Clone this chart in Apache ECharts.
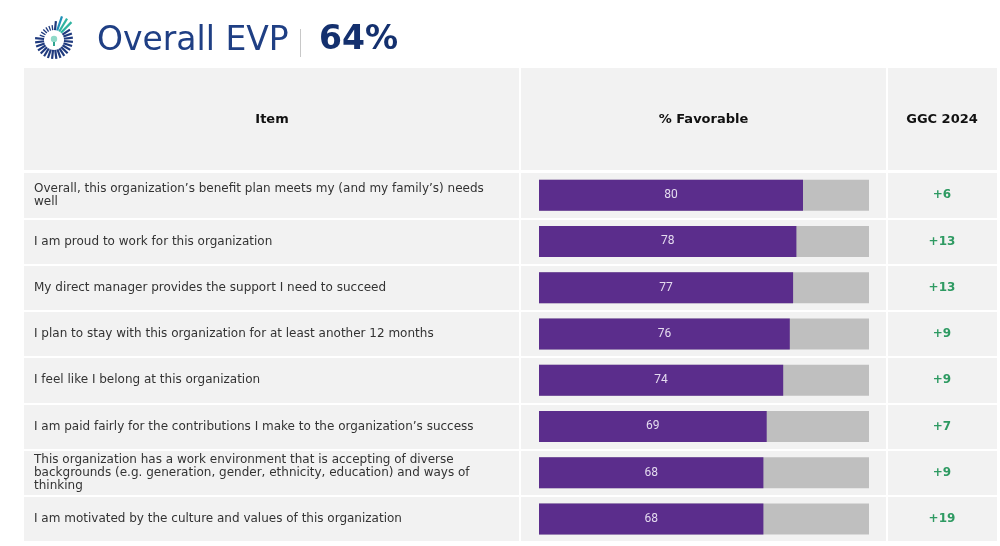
<!DOCTYPE html>
<html>
<head>
<meta charset="utf-8">
<script src="https://cdn.jsdelivr.net/npm/echarts@6/dist/echarts.min.js"></script>
<style>
  html, body { margin: 0; padding: 0; background: #fff; }
  #chart { width: 1000px; height: 546px; }
</style>
</head>
<body>
<div id="chart"></div>
<script>
var items = [
  'Overall, this organization\u2019s benefit plan meets my (and my family\u2019s) needs well',
  'I am proud to work for this organization',
  'My direct manager provides the support I need to succeed',
  'I plan to stay with this organization for at least another 12 months',
  'I feel like I belong at this organization',
  'I am paid fairly for the contributions I make to the organization\u2019s success',
  'This organization has a work environment that is accepting of diverse backgrounds (e.g. generation, gender, ethnicity, education) and ways of thinking',
  'I am motivated by the culture and values of this organization'
];
var favorable = [80, 78, 77, 76, 74, 69, 68, 68];
var ggc = ['+6', '+13', '+13', '+9', '+9', '+7', '+9', '+19'];

var font = 'DejaVu Sans, Verdana, sans-serif';
var headTop = 68, rowsTop = 172, tableLeft = 24, tableRight = 997, tableBottom = 542;
var col1 = 520, col2 = 887;

// logo: sunburst of short strokes
var logo = [];
var cx = 54, cy = 40;
for (var i = 0; i < 28; i++) {
  var a = -Math.PI / 2 + (i / 28) * Math.PI * 2 + 0.1;
  var deg = (a * 180 / Math.PI + 360) % 360;
  var r0 = 10, r1 = 19;
  var color = '#1f3a7e';
  var w = 2.2;
  if (deg > 278 && deg < 325) { r1 = 25; color = deg > 300 ? '#2fb3a0' : '#1f8fb8'; }
  if (deg > 195 && deg < 275) { r1 = 15; w = 1.3; }
  logo.push({
    type: 'line',
    shape: { x1: cx + r0 * Math.cos(a), y1: cy + r0 * Math.sin(a), x2: cx + r1 * Math.cos(a), y2: cy + r1 * Math.sin(a) },
    style: { stroke: color, lineWidth: w }
  });
}
logo.push({ type: 'circle', shape: { cx: cx, cy: cy - 1, r: 3.2 }, style: { fill: '#8fd9c8' } });
logo.push({ type: 'rect', shape: { x: cx - 1, y: cy + 2, width: 2, height: 4 }, style: { fill: '#2fa38f' } });

var chart = echarts.init(document.getElementById('chart'));
chart.setOption({
  backgroundColor: '#ffffff',
  animation: false,
  graphic: logo.concat([
    { type: 'text', left: 97, top: 25, style: { text: 'Overall EVP', font: '33px ' + font, fill: '#1f3f84' } },
    { type: 'rect', shape: { x: 300, y: 29, width: 1, height: 28 }, style: { fill: '#c8c8c8' } },
    { type: 'text', left: 319, top: 24, style: { text: '64%', font: 'bold 33px ' + font, fill: '#14306e' } },
    // header row
    { type: 'rect', shape: { x: tableLeft, y: headTop, width: tableRight - tableLeft, height: rowsTop - headTop - 2 }, style: { fill: '#f2f2f2' }, z: -10 },
    { type: 'text', x: (tableLeft + col1) / 2, y: 120, style: { text: 'Item', font: 'bold 13px ' + font, fill: '#111', align: 'center', verticalAlign: 'middle' } },
    { type: 'text', x: (col1 + col2) / 2, y: 120, style: { text: '% Favorable', font: 'bold 13px ' + font, fill: '#111', align: 'center', verticalAlign: 'middle' } },
    { type: 'text', x: (col2 + tableRight) / 2, y: 120, style: { text: 'GGC 2024', font: 'bold 13px ' + font, fill: '#111', align: 'center', verticalAlign: 'middle' } },
    // column dividers
    { type: 'rect', shape: { x: col1 - 1, y: headTop, width: 2, height: tableBottom - headTop }, style: { fill: '#ffffff' }, z: 50 },
    { type: 'rect', shape: { x: col2 - 1, y: headTop, width: 2, height: tableBottom - headTop }, style: { fill: '#ffffff' }, z: 50 }
  ]),
  grid: [
    { left: 539, width: 330, top: rowsTop, bottom: 546 - tableBottom, outerBoundsMode: 'none' },
    { left: tableLeft, right: 1000 - tableRight, top: rowsTop, bottom: 546 - tableBottom, outerBoundsMode: 'none',
      show: true, backgroundColor: '#f2f2f2', borderWidth: 0, z: -5 }
  ],
  xAxis: [
    { gridIndex: 0, type: 'value', min: 0, max: 100, show: false },
    { gridIndex: 1, type: 'value', min: 0, max: 1, show: false }
  ],
  yAxis: [
    { gridIndex: 0, type: 'category', data: items, inverse: true, show: false },
    { gridIndex: 1, type: 'category', data: items, inverse: true, position: 'left',
      axisLine: { show: false }, axisTick: { show: false },
      splitLine: { show: true, lineStyle: { color: '#ffffff', width: 2 } },
      axisLabel: {
        inside: true, margin: 10, align: 'left', color: '#333', fontFamily: font, fontSize: 12,
        width: 472, overflow: 'break', lineHeight: 13
      }
    },
    { gridIndex: 1, type: 'category', data: ggc, inverse: true, position: 'right',
      axisLine: { show: false }, axisTick: { show: false }, splitLine: { show: false },
      axisLabel: { inside: true, margin: 55, align: 'center', color: '#2e9a62', fontFamily: font, fontSize: 12, fontWeight: 'bold' }
    }
  ],
  series: [{
    type: 'bar',
    xAxisIndex: 0,
    yAxisIndex: 0,
    data: favorable,
    barWidth: 31,
    itemStyle: { color: '#5b2d8c' },
    showBackground: true,
    backgroundStyle: { color: '#bfbfbf' },
    label: { show: true, position: 'inside', color: '#e4dbef', fontFamily: 'Roboto, sans-serif', fontSize: 12 }
  }]
});
</script>
</body>
</html>
